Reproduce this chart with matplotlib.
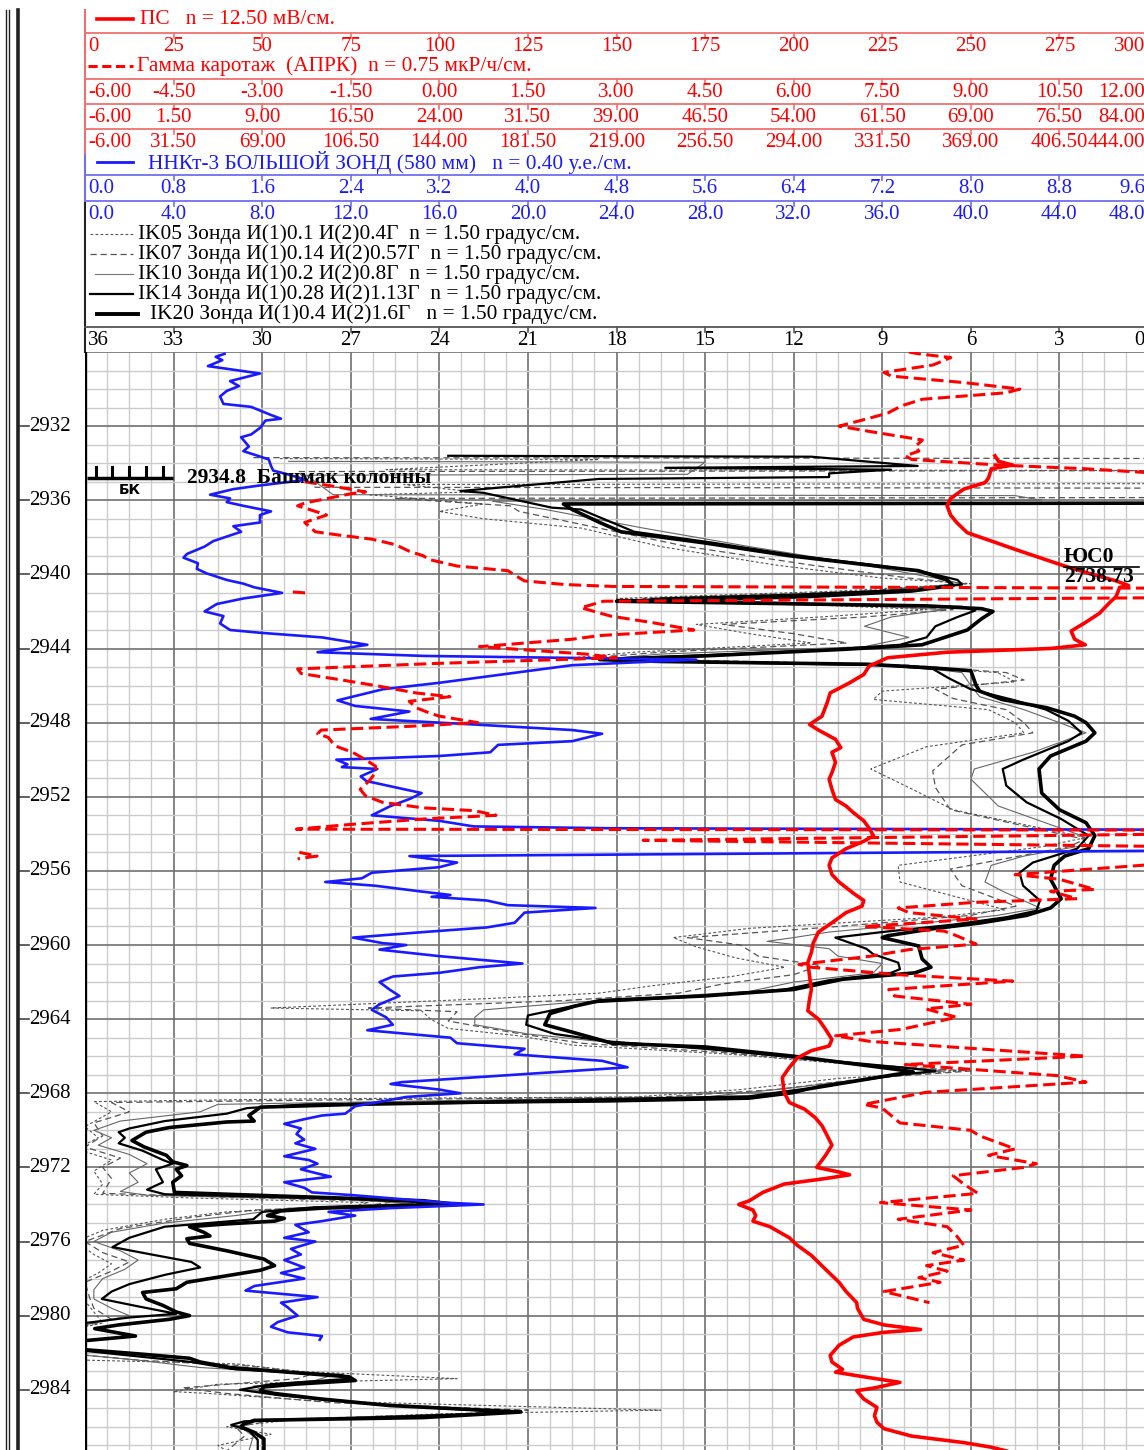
import numpy as np
import matplotlib.pyplot as plt
import matplotlib.transforms as mtransforms

plt.rcParams['font.family'] = ['Liberation Serif', 'DejaVu Serif']

# ПС, mV-scale units of the header (0..300)
ps_depth = [2933.6, 2933.9, 2934.1, 2934.3, 2934.8, 2935.05, 2935.4, 2935.9, 2936.3, 2936.8, 2937.2, 2937.75,
            2938.2, 2938.65, 2939.1, 2939.55, 2940.0, 2940.35, 2940.6, 2940.7, 2941.2, 2941.5, 2942.1, 2942.6,
            2943.06, 2943.5, 2943.8, 2944.0, 2944.2, 2944.5, 2944.95, 2945.4, 2945.85, 2946.4, 2946.9, 2947.65,
            2948.1, 2948.4, 2948.9, 2949.35, 2949.6, 2950.15, 2950.7, 2951.05, 2951.6, 2952.15, 2952.5, 2952.85,
            2953.3, 2953.75, 2954.1, 2954.4, 2954.8, 2955.3, 2955.7, 2956.2, 2956.6, 2957.2, 2957.6, 2957.9,
            2958.25, 2958.8, 2959.3, 2959.9, 2960.4, 2960.95, 2961.7, 2962.4, 2962.9, 2963.55, 2964.0, 2964.55,
            2965.1, 2965.45, 2965.7, 2966.1, 2966.6, 2967.15, 2967.95, 2968.5, 2968.85, 2969.3, 2969.75, 2970.3,
            2970.8, 2971.35, 2972.0, 2972.25, 2972.4, 2972.6, 2972.9, 2973.35, 2973.8, 2974.0, 2974.3, 2974.6,
            2974.9, 2975.2, 2975.8, 2976.2, 2976.75, 2977.5, 2978.2, 2978.7, 2979.3, 2979.6, 2980.2, 2980.5,
            2980.75, 2980.9, 2981.15, 2981.6, 2982.15, 2982.5, 2982.9, 2983.05, 2983.3, 2983.6, 2983.9, 2984.05,
            2984.5, 2984.95, 2985.4, 2985.75, 2986.1, 2986.5, 2986.85, 2987.1, 2987.3]
ps_value = [256.8, 257.8, 261.8, 255.8, 255.0, 254.0, 248.0, 244.3, 243.3, 244.3, 246.0, 249.0,
            255.8, 262.5, 269.5, 276.5, 284.3, 291.0, 294.5, 292.0, 291.0, 289.3, 286.3, 282.3,
            278.3, 279.3, 282.3, 272.5, 243.3, 226.5, 221.3, 219.8, 215.8, 210.3, 209.5, 208.0,
            204.5, 207.0, 211.8, 213.3, 210.8, 211.8, 210.8, 210.0, 210.8, 211.8, 214.8, 216.8,
            219.8, 221.5, 222.5, 219.8, 214.8, 210.8, 210.0, 210.8, 212.8, 216.8, 219.8, 219.3,
            214.8, 210.8, 207.0, 205.5, 205.0, 204.0, 204.5, 205.0, 204.5, 204.0, 207.0, 209.0,
            210.8, 210.0, 205.0, 201.0, 198.8, 196.8, 197.3, 198.8, 203.0, 206.0, 208.0, 209.5,
            210.8, 209.0, 206.5, 212.8, 215.8, 209.0, 197.3, 191.3, 187.5, 184.5, 188.5, 189.3,
            188.5, 193.3, 198.8, 201.0, 205.0, 209.0, 212.8, 214.8, 217.8, 218.0, 219.8, 225.5,
            235.8, 225.5, 216.8, 212.8, 210.3, 210.8, 213.8, 211.8, 219.8, 230.0, 222.8, 217.8,
            219.8, 223.5, 222.8, 223.5, 225.5, 233.3, 248.0, 255.8, 260.0]

# Гамма каротаж, read on the first gamma scale (-6..12); nan = break where the trace wraps
gk_depth = [2928.0, 2928.1, 2928.3, 2928.7, 2929.1, 2929.3, 2929.65, 2930.0, 2930.2, 2930.55, 2930.9, 2931.3,
            2931.6, 2932.0, 2932.3, 2932.6, 2932.75, 2933.1, 2933.35, 2933.6, 2933.8, 2934.1, 2934.3, 2934.6,
            np.nan,
            2935.0, 2935.2, 2935.55, 2935.65, 2936.15, 2936.3, 2936.7, 2936.8, 2937.2, 2937.7, 2937.9, 2938.1,
            2938.4, 2938.75, 2939.0, 2939.2, 2939.55, 2939.8, 2940.1, 2940.35, 2940.55, 2940.65, 2940.75,
            np.nan, 2940.95, 2941.02, np.nan,
            2941.25, 2941.45, 2941.8, 2942.25, 2942.6, 2943.0, 2943.3, 2943.5, 2943.9, 2944.3, 2944.5, 2944.8,
            2945.1, 2945.35, 2945.7, 2946.0, 2946.4, 2946.6, 2946.85, 2947.2, 2947.5, 2947.65, 2948.0, 2948.2,
            2948.4, 2948.6, 2948.8, 2949.25, 2949.6, 2950.0, 2950.35, 2950.7, 2951.15, 2951.6, 2951.95, 2952.3,
            2952.6, 2952.75, 2953.0, 2953.2, 2953.5, 2953.75, 2953.8,
            np.nan, 2954.0, 2954.35, 2954.7,
            np.nan, 2955.0, 2955.2, 2955.35,
            np.nan,
            2955.5, 2956.2, 2956.45, 2957.0, 2957.1, 2957.5, 2957.7, 2958.0, 2958.25, 2958.6, 2959.0, 2959.25,
            2959.5, 2959.95, 2960.25, 2960.6, 2961.05, 2961.2, 2961.6, 2961.95, 2962.4, 2962.75, 2963.2, 2963.45,
            2963.9, 2964.55, 2964.9, 2965.2, 2966.0, 2966.45, 2967.05, 2967.4, 2967.95, 2968.6, 2968.8, 2969.2,
            2969.6, 2970.0, 2970.3, 2971.0, 2971.35, 2971.8, 2972.0, 2972.45, 2972.9, 2973.4, 2973.9, 2974.3,
            2974.8, 2975.2, 2975.7, 2976.2, 2976.6, 2977.0, 2977.3, 2977.6, 2977.95, 2978.2, 2978.7, 2979.3]
gk_value = [7.95, 8.12, 8.66, 8.36, 7.53, 7.65, 8.88, 9.83, 9.60, 8.18, 7.83, 7.59,
            7.25, 6.77, 7.31, 7.89, 8.18, 8.06, 8.12, 7.89, 8.0, 9.47, 10.94, 12.45,
            np.nan,
            -2.28, -1.88, -1.25, -1.5, -2.28, -2.4, -2.0, -1.91, -2.28, -2.1, -1.65, -1.14,
            -0.74, -0.51, -0.27, -0.17, 0.3, 1.16, 1.31, 1.44, 2.13, 2.93, 12.75,
            np.nan, -2.48, -2.18, np.nan,
            12.75, 2.78, 2.4, 2.9, 3.6, 4.31, 2.72, 2.25, 0.68, 2.48, 3.0, 0.0,
            -2.4, -2.34, -1.65, -1.08, -0.39, 0.18, -0.51, -0.39, -0.15, 0.0, 0.65, -0.51,
            -2.0, -2.06, -1.88, -1.77, -1.47, -1.25, -1.08, -1.08, -1.19, -1.34, -1.25, -0.96,
            -0.27, 0.59, 0.96, -0.27, -1.53, -2.42, 12.75,
            np.nan, 12.75, 3.45, 12.75,
            np.nan, -2.37, -2.07, -2.4,
            np.nan,
            12.75, 9.75, 10.5, 11.1, 10.35, 10.8, 9.06, 7.77, 7.95, 9.09, 7.19, 8.55,
            8.76, 9.09, 7.95, 7.31, 6.09, 6.3, 7.77, 9.71, 7.61, 7.71, 9.0, 8.24,
            8.76, 7.83, 6.71, 7.29, 10.94, 7.89, 10.47, 10.95, 8.24, 7.19, 7.5, 7.65,
            7.8, 9.0, 9.15, 9.75, 9.3, 10.11, 9.9, 8.7, 8.88, 9.12, 7.47, 9.0,
            7.77, 8.6, 8.76, 8.88, 8.36, 8.88, 8.25, 8.6, 8.12, 8.48, 7.53, 8.3]

# ННКт-3, first scale (0..9.6 у.е.)
nnk_depth = [2928.1, 2928.26, 2928.44, 2928.76, 2929.16, 2929.57, 2929.84, 2930.1, 2930.4, 2930.8, 2930.96,
             2931.4, 2931.6, 2931.7, 2932.1, 2932.45, 2932.6, 2933.1, 2933.35, 2933.6, 2933.8, 2934.15, 2934.4,
             2934.6, 2934.9, 2935.2, 2935.4, 2935.7, 2935.9, 2936.1, 2936.3, 2936.6, 2936.8, 2937.2, 2937.4,
             2937.7, 2937.9, 2938.2, 2938.5, 2938.9, 2939.1, 2939.4, 2939.7, 2939.95, 2940.3, 2940.5, 2940.7,
             2941.0, 2941.3, 2941.6, 2942.0, 2942.25, 2942.65, 2943.0, 2943.15, 2943.4, 2943.8, 2944.2, 2944.4,
             2944.6, 2944.9, 2945.85, 2946.2, 2946.8, 2947.1, 2947.4, 2947.8, 2948.1, 2948.4, 2948.6, 2949.0,
             2949.2, 2949.6, 2949.8, 2950.0, 2950.25, 2950.4, 2950.5, 2950.9, 2951.15, 2951.5, 2951.8, 2952.1,
             2952.5, 2953.0, 2953.3, 2953.6, 2953.7, 2953.8, 2954.85, 2955.2, 2955.55, 2955.8, 2956.1, 2956.4,
             2956.6, 2956.8, 2957.1, 2957.3, 2957.4, 2957.6, 2957.85, 2958.0, 2958.25, 2958.8, 2959.05, 2959.3,
             2959.6, 2959.9, 2960.0, 2960.25, 2960.6, 2961.0, 2961.2, 2961.5, 2961.7, 2962.0, 2962.4, 2962.75,
             2963.2, 2963.5, 2963.9, 2964.3, 2964.6, 2965.0, 2965.3, 2965.6, 2965.9, 2966.25, 2966.6, 2967.2,
             2967.4, 2967.5, 2967.8, 2968.0, 2968.2, 2968.7, 2969.1, 2969.2, 2969.4, 2969.65, 2969.9, 2970.2,
             2970.5, 2970.7, 2971.0, 2971.4, 2971.6, 2971.8, 2972.1, 2972.3, 2972.5, 2972.8, 2973.1, 2973.35,
             2973.5, 2973.9, 2974.0, 2974.2, 2974.4, 2974.6, 2974.9, 2975.1, 2975.5, 2975.8, 2976.0, 2976.4,
             2976.7, 2977.0, 2977.4, 2977.7, 2978.0, 2978.4, 2978.65, 2979.0, 2979.3, 2979.55, 2980.0, 2980.35,
             2980.6, 2980.9, 2981.1, 2981.3]
nnk_value = [1.26, 1.18, 1.24, 1.11, 1.58, 1.31, 1.39, 1.28, 1.22, 1.25, 1.50,
             1.68, 1.77, 1.63, 1.58, 1.50, 1.41, 1.48, 1.43, 1.56, 1.66, 1.68, 1.70,
             1.83, 2.00, 1.58, 1.34, 1.13, 1.31, 1.28, 1.43, 1.68, 1.58, 1.58, 1.34,
             1.41, 1.31, 1.16, 1.08, 0.92, 0.89, 1.02, 1.01, 1.10, 1.28, 1.43, 1.53,
             1.78, 1.43, 1.19, 1.08, 1.25, 1.22, 1.31, 1.58, 2.14, 2.55, 2.10, 3.06,
             5.52, 4.40, 3.20, 2.69, 2.28, 2.44, 2.93, 2.58, 3.51, 4.40, 4.67, 4.40,
             3.73, 3.66, 3.20, 2.27, 2.37, 2.32, 2.64, 2.49, 2.54, 2.81, 3.04, 2.94,
             2.76, 2.59, 3.20, 3.51, 4.76, 11.2, 11.2, 2.93, 3.36, 3.20, 2.59, 2.50,
             2.17, 2.62, 3.02, 3.30, 3.13, 3.63, 3.82, 4.61, 3.97, 3.88, 3.63, 3.06,
             2.42, 2.69, 2.90, 2.66, 3.20, 3.95, 3.56, 3.20, 2.78, 2.66, 2.75, 2.84,
             2.66, 2.59, 2.72, 2.78, 2.55, 3.30, 3.36, 3.97, 3.88, 4.67, 4.90, 3.36,
             2.86, 2.76, 3.20, 3.39, 2.90, 2.44, 2.35, 2.14, 1.98, 1.80, 1.95, 1.91,
             1.98, 1.90, 2.08, 1.80, 2.02, 2.10, 1.95, 2.08, 2.22, 1.80, 1.98, 2.05,
             2.42, 3.24, 3.60, 2.75, 2.20, 2.44, 2.14, 1.90, 2.02, 1.80, 2.08, 1.86,
             1.95, 1.80, 1.98, 1.77, 1.98, 1.53, 1.45, 2.10, 1.77, 1.83, 1.92, 1.74,
             1.68, 1.83, 2.14, 2.12]

# IK curves, degrees (36 at the left edge, 0 at the right edge)
ik20_depth = [2936.15, 2936.2, 2936.5, 2937.2, 2937.7, 2938.3, 2939.0, 2939.55, 2939.8, 2940.3, 2940.6, 2940.9,
              2941.2, 2941.35, 2941.45, 2941.55, 2941.7, 2941.85, 2942.0, 2942.4, 2943.0, 2943.8, 2944.05, 2944.4,
              2944.6, 2944.7, 2944.85, 2945.05, 2945.2, 2946.0, 2946.3, 2946.75, 2947.2, 2947.65, 2948.0, 2948.55,
              2949.0, 2949.8, 2950.5, 2951.8, 2952.7, 2953.4, 2954.1, 2954.8, 2955.2, 2955.7, 2956.45, 2957.5,
              2958.0, 2958.4, 2958.8, 2959.15, 2959.5, 2959.6, 2960.05, 2960.75, 2961.2, 2961.5, 2961.85, 2962.4,
              2962.75, 2963.0, 2963.3, 2963.7, 2964.3, 2964.7, 2965.3, 2965.5, 2966.0, 2966.7, 2966.85, 2967.0,
              2967.8, 2968.2, 2968.35, 2968.6, 2968.75, 2969.2, 2969.5, 2969.55, 2969.85, 2970.1, 2970.55, 2970.9,
              2971.35, 2971.7, 2971.9, 2972.1, 2972.45, 2972.8, 2973.35, 2973.5, 2973.8, 2974.0, 2974.2, 2974.35,
              2974.6, 2974.75, 2974.9, 2975.05, 2975.2, 2975.5, 2975.7, 2975.85, 2976.1, 2976.5, 2976.95, 2977.3,
              2977.55, 2977.85, 2978.2, 2978.55, 2978.75, 2979.1, 2979.45, 2979.8, 2980.0, 2980.2, 2980.5, 2980.7,
              2981.1, 2981.35, 2981.8, 2982.05, 2982.3, 2982.5, 2982.8, 2983.05, 2983.3, 2983.5, 2983.7, 2983.85,
              2984.05, 2984.2, 2984.5, 2984.85, 2985.1, 2985.2, 2985.5, 2985.65, 2985.85, 2986.0, 2986.3, 2986.65,
              2987.3]
ik20_value = [-3.0, 19.8, 19.5, 18.57, 17.85, 15.03, 12.12, 9.18, 7.77, 6.81, 6.6, 8.01,
              11.52, 15.03, 18.0, 13.5, 7.5, 5.64, 5.25, 5.64, 6.12, 7.65, 10.35, 15.03,
              18.57, 16.5, 9.51, 7.29, 6.0, 5.82, 5.7, 4.95, 3.42, 2.49, 2.1, 1.8,
              2.1, 3.3, 3.69, 3.6, 3.0, 2.1, 1.8, 2.01, 2.82, 3.18, 3.3, 2.94,
              3.3, 4.11, 5.64, 7.41, 8.82, 9.0, 7.77, 7.65, 7.35, 7.89, 10.35, 12.0,
              15.03, 18.57, 19.41, 20.25, 20.43, 19.5, 18.15, 15.0, 12.0, 8.58, 7.95, 8.61,
              11.64, 13.5, 18.15, 26.85, 30.06, 30.45, 30.27, 31.2, 33.15, 33.93, 34.41, 33.99,
              33.24, 33.03, 32.55, 32.91, 32.73, 33.03, 32.97, 30.27, 24.54, 23.4, 27.99, 29.37,
              29.82, 29.25, 29.58, 31.2, 32.46, 31.98, 31.77, 32.55, 32.46, 31.2, 29.94, 29.58,
              30.06, 31.2, 32.55, 32.91, 34.05, 33.93, 33.36, 32.91, 32.46, 33.15, 34.86, 35.67,
              34.29, 36.0, 36.3, 34.29, 32.46, 32.1, 31.08, 29.13, 27.06, 26.85, 28.89, 29.94,
              30.06, 29.58, 27.99, 25.68, 22.5, 21.24, 24.54, 30.27, 30.63, 30.72, 30.27, 29.94,
              29.94]

ik14_depth = [2933.6, 2933.65, 2934.15, 2934.25, 2934.35, 2934.55, 2934.75, 2934.85, 2935.5, 2935.6, 2936.4, 2936.5,
              2937.2, 2937.7, 2938.3, 2939.0, 2939.55, 2939.9, 2940.3, 2940.55, 2940.8, 2941.1, 2941.3, 2941.45,
              2941.6, 2941.75, 2941.95, 2942.3, 2942.8, 2943.4, 2943.8, 2944.1, 2944.4, 2944.55, 2944.7, 2944.9,
              2945.1, 2945.6, 2946.2, 2946.8, 2947.3, 2947.9, 2948.55, 2949.0, 2950.0, 2950.5, 2951.4, 2952.3,
              2953.2, 2954.1, 2954.8, 2955.55, 2956.1, 2956.8, 2957.6, 2958.15, 2958.5, 2958.9, 2959.3, 2959.6,
              2960.2, 2960.5, 2960.95, 2961.3, 2961.5, 2961.9, 2962.4, 2962.8, 2963.1, 2963.5, 2963.8, 2964.3,
              2964.8, 2965.2, 2965.6, 2966.1, 2966.6, 2966.8, 2967.0, 2967.6, 2968.0, 2968.3, 2968.45, 2968.6,
              2968.8, 2969.1, 2969.5, 2969.9, 2970.1, 2970.4, 2970.7, 2971.1, 2971.6, 2971.8, 2972.1, 2972.8,
              2973.2, 2973.45, 2973.7, 2973.95, 2974.15, 2974.4, 2974.8, 2975.2, 2975.8, 2976.3, 2976.7, 2977.1,
              2977.4, 2977.8, 2978.3, 2978.7, 2979.1, 2979.5, 2979.9, 2980.1, 2980.4, 2981.0, 2981.8, 2982.1,
              2982.5, 2982.9, 2983.2, 2983.4, 2983.7, 2984.0, 2984.3, 2984.8, 2985.1, 2985.25, 2985.5, 2985.7,
              2985.9, 2986.2, 2986.7, 2987.3]
ik14_value = [23.7, 11.4, 7.8, 16.35, 8.7, 10.8, 10.8, 18.6, 23.28, 22.5, 20.19, 19.2,
              18.15, 17.4, 14.7, 11.85, 9.0, 7.5, 6.45, 6.3, 7.8, 12.0, 16.5, 17.4,
              12.0, 6.3, 5.85, 6.45, 7.2, 7.5, 8.4, 11.1, 15.6, 18.3, 16.2, 9.0,
              7.29, 6.75, 6.0, 4.5, 3.45, 2.7, 2.25, 2.7, 4.23, 4.92, 4.8, 4.11,
              2.94, 2.01, 2.4, 3.9, 4.35, 4.23, 3.66, 3.78, 4.8, 6.6, 9.0, 10.59,
              9.54, 9.3, 8.46, 8.4, 8.7, 10.8, 12.3, 15.6, 18.9, 20.1, 21.0, 21.06,
              20.1, 18.3, 15.0, 11.7, 8.4, 7.2, 8.4, 11.1, 12.0, 13.5, 18.3, 28.5,
              30.51, 31.2, 33.3, 34.5, 34.86, 34.65, 34.86, 34.05, 33.36, 33.03, 33.6, 33.36,
              33.9, 33.3, 27.0, 23.7, 28.2, 30.0, 30.3, 33.3, 34.5, 35.07, 33.75, 32.4,
              32.1, 33.3, 34.5, 35.1, 35.43, 34.2, 32.91, 34.5, 36.0, 36.6, 36.6, 34.8,
              32.4, 30.9, 27.3, 27.0, 29.7, 30.75, 29.4, 26.1, 22.8, 21.9, 26.4, 30.6,
              31.05, 30.45, 30.15, 30.15]

ik10_depth = [2933.9, 2933.95, 2934.6, 2934.65, 2935.7, 2935.75, 2936.0, 2936.05, 2936.5, 2937.5, 2938.5, 2939.5,
              2940.2, 2940.5, 2940.9, 2941.3, 2941.6, 2941.9, 2942.3, 2942.8, 2943.4, 2943.9, 2944.3, 2944.55,
              2944.9, 2945.3, 2946.0, 2946.6, 2947.3, 2948.0, 2948.55, 2949.6, 2950.5, 2951.05, 2952.5, 2954.1,
              2954.6, 2955.2, 2955.7, 2956.6, 2957.1, 2958.0, 2958.4, 2958.9, 2959.3, 2959.6, 2959.8, 2960.2,
              2960.6, 2961.0, 2961.5, 2962.0, 2962.5, 2962.8, 2963.1, 2963.5, 2963.9, 2964.3, 2964.8, 2965.2,
              2965.6, 2966.2, 2966.6, 2966.8, 2967.1, 2967.7, 2968.2, 2968.4, 2968.6, 2969.0, 2969.5, 2970.0,
              2970.4, 2970.8, 2971.3, 2971.8, 2972.3, 2972.8, 2973.3, 2973.5, 2973.75, 2973.95, 2974.2, 2974.6,
              2975.0, 2975.5, 2976.0, 2976.5, 2977.0, 2977.5, 2978.0, 2978.6, 2979.1, 2979.6, 2980.0, 2980.5,
              2981.2, 2982.0, 2982.4, 2982.8, 2983.2, 2983.5, 2983.8, 2984.2, 2984.7, 2985.1, 2985.3, 2985.6,
              2986.0, 2986.5, 2987.3]
ik10_value = [29.1, 15.0, 15.6, 28.5, 27.6, 4.5, 3.6, 22.2, 20.4, 17.1, 13.5, 9.6,
              7.2, 6.3, 9.0, 16.5, 10.5, 6.9, 8.7, 9.6, 8.1, 9.6, 16.5, 18.3,
              8.4, 6.3, 6.0, 5.7, 4.2, 3.0, 2.1, 3.9, 5.88, 6.0, 5.07, 2.25,
              2.1, 4.2, 5.31, 5.52, 4.92, 3.66, 5.1, 8.1, 10.8, 12.0, 12.9, 10.8,
              10.5, 9.0, 9.3, 12.0, 13.5, 16.5, 19.5, 22.5, 22.8, 22.8, 21.0, 18.6,
              15.0, 11.4, 8.1, 6.9, 9.0, 12.0, 15.0, 24.0, 31.5, 32.1, 34.8, 35.7,
              35.1, 35.55, 34.5, 33.9, 34.5, 34.2, 34.8, 33.9, 27.0, 24.9, 29.1, 30.9,
              33.3, 35.1, 35.7, 34.8, 34.2, 34.65, 35.4, 35.7, 35.7, 35.1, 34.5, 36.0,
              36.9, 36.9, 34.2, 32.1, 27.6, 28.2, 30.3, 29.7, 26.4, 22.2, 22.8, 30.0,
              30.75, 30.3, 30.45]

ik07_depth = [2933.7, 2933.75, 2934.4, 2934.45, 2935.3, 2935.35, 2935.85, 2935.9, 2936.3, 2936.6, 2937.5, 2938.5,
              2939.5, 2940.2, 2940.5, 2940.9, 2941.3, 2941.6, 2941.9, 2942.3, 2942.7, 2943.2, 2943.7, 2944.2,
              2944.5, 2944.9, 2945.3, 2945.7, 2946.2, 2946.7, 2947.3, 2948.0, 2948.55, 2949.2, 2950.6, 2951.5,
              2952.7, 2954.3, 2954.7, 2955.9, 2956.8, 2957.9, 2958.4, 2959.0, 2959.6, 2960.0, 2960.6, 2961.1,
              2961.6, 2962.1, 2962.6, 2963.0, 2963.4, 2963.6, 2964.1, 2964.7, 2965.3, 2965.8, 2966.4, 2966.8,
              2967.2, 2967.8, 2968.2, 2968.35, 2968.5, 2969.0, 2969.6, 2970.3, 2970.9, 2971.5, 2972.0, 2972.6,
              2973.4, 2973.6, 2973.85, 2974.05, 2974.3, 2974.7, 2975.3, 2976.0, 2976.6, 2977.1, 2977.6, 2978.2,
              2979.0, 2979.6, 2980.2, 2980.8, 2982.0, 2982.4, 2982.7, 2983.1, 2983.4, 2983.9, 2984.2, 2984.7,
              2985.1, 2985.3, 2985.6, 2986.0, 2986.5, 2987.3]
ik07_value = [30.3, -3.0, -3.0, 28.8, 28.2, -3.0, -3.0, 25.5, 21.6, 21.3, 18.6, 15.6,
              11.4, 8.1, 6.15, 9.6, 17.1, 11.1, 6.6, 9.6, 14.4, 12.0, 10.2, 16.5,
              18.9, 8.1, 4.8, 4.2, 7.2, 6.6, 4.8, 4.2, 3.9, 6.3, 7.29, 7.2,
              6.69, 2.13, 2.7, 6.69, 6.3, 4.47, 6.0, 10.5, 15.6, 13.8, 13.2, 11.1,
              12.0, 14.4, 15.9, 19.8, 26.4, 23.4, 23.7, 21.6, 19.2, 14.4, 10.2, 6.0,
              9.6, 12.6, 16.5, 27.0, 35.1, 34.5, 35.7, 35.4, 36.0, 34.8, 35.4, 35.1,
              35.4, 31.5, 25.5, 26.4, 30.3, 32.4, 34.8, 36.0, 35.4, 34.5, 35.1, 36.0,
              35.85, 35.7, 35.1, 36.6, 36.9, 34.2, 30.6, 28.2, 28.8, 32.7, 31.2, 27.6,
              21.0, 23.4, 29.4, 30.9, 30.6, 31.2]

ik05_depth = [2933.75, 2933.8, 2934.35, 2934.4, 2935.1, 2935.15, 2935.55, 2935.7, 2936.2, 2936.6, 2937.0, 2937.5,
              2938.5, 2939.5, 2940.2, 2940.5, 2940.9, 2941.3, 2941.6, 2941.9, 2942.3, 2942.7, 2943.2, 2943.7,
              2944.2, 2944.5, 2944.9, 2945.3, 2945.8, 2946.3, 2946.75, 2947.3, 2948.0, 2948.55, 2949.3, 2950.5,
              2951.5, 2952.7, 2954.2, 2954.7, 2955.7, 2956.6, 2958.1, 2958.5, 2959.1, 2959.6, 2960.1, 2960.7,
              2961.2, 2961.7, 2962.2, 2962.6, 2962.9, 2963.4, 2963.55, 2964.0, 2964.5, 2964.9, 2965.4, 2965.9,
              2966.5, 2966.8, 2967.2, 2967.8, 2968.2, 2968.3, 2968.45, 2969.0, 2969.8, 2970.4, 2971.0, 2971.6,
              2972.2, 2972.9, 2973.45, 2973.65, 2973.9, 2974.1, 2974.4, 2974.8, 2975.4, 2976.0, 2976.7, 2977.2,
              2977.7, 2978.3, 2979.2, 2979.8, 2980.4, 2980.9, 2982.0, 2982.4, 2982.6, 2983.0, 2983.4, 2983.7,
              2984.1, 2984.2, 2984.6, 2985.1, 2985.3, 2985.6, 2986.0, 2986.4, 2987.0, 2987.3]
ik05_value = [29.4, 18.6, 25.8, -3.0, -3.0, 25.2, 22.8, 26.4, 22.5, 24.0, 22.5, 19.2,
              16.5, 12.6, 9.0, 6.0, 10.5, 18.0, 12.0, 7.5, 11.1, 15.3, 13.5, 11.4,
              17.4, 19.5, 9.0, 5.1, 4.5, 9.0, 9.3, 5.4, 4.5, 4.2, 7.5, 9.39,
              8.1, 6.6, 2.1, 3.6, 8.46, 8.4, 4.83, 7.2, 13.5, 16.08, 15.3, 13.95,
              12.3, 14.1, 16.8, 18.6, 22.5, 29.7, 24.6, 24.3, 23.7, 21.3, 19.5, 14.1,
              9.6, 6.3, 10.5, 13.8, 17.4, 28.5, 35.7, 35.1, 36.0, 35.55, 36.3, 35.1,
              35.7, 35.4, 35.7, 32.4, 26.4, 27.0, 31.2, 33.3, 35.4, 36.3, 35.7, 35.1,
              35.55, 36.3, 36.0, 35.7, 35.4, 36.9, 36.9, 36.0, 30.9, 28.8, 23.4, 31.5,
              33.0, 31.8, 28.2, 16.5, 24.0, 28.8, 31.2, 29.7, 31.5, 31.2]

# header scales
ps_ticks = ['0', '25', '50', '75', '100', '125', '150', '175', '200', '225', '250', '275', '300']
gk_ticks1 = ['-6.00', '-4.50', '-3.00', '-1.50', '0.00', '1.50', '3.00', '4.50', '6.00', '7.50', '9.00', '10.50', '12.00']
gk_ticks2 = ['-6.00', '1.50', '9.00', '16.50', '24.00', '31.50', '39.00', '46.50', '54.00', '61.50', '69.00', '76.50', '84.00']
gk_ticks3 = ['-6.00', '31.50', '69.00', '106.50', '144.00', '181.50', '219.00', '256.50', '294.00', '331.50', '369.00', '406.50', '444.00']
nnk_ticks1 = ['0.0', '0.8', '1.6', '2.4', '3.2', '4.0', '4.8', '5.6', '6.4', '7.2', '8.0', '8.8', '9.6']
nnk_ticks2 = ['0.0', '4.0', '8.0', '12.0', '16.0', '20.0', '24.0', '28.0', '32.0', '36.0', '40.0', '44.0', '48.0']
ik_ticks = ['36', '33', '30', '27', '24', '21', '18', '15', '12', '9', '6', '3', '0']
depth_labels = list(range(2932, 2988, 4))

# ---------------- layout ----------------
W, H = 1144, 1450
TL, TR, TT = 85, 1148, 352          # track edges in pixels
DIV = (TR - TL) / 12.0
D_TOP, D_BOT = 2928.0, 2987.25

RED, RED_L = '#ff0000', '#f07070'
BLUE, BLUE_L = '#1a1aff', '#7070f0'
NUM_FS, LEG_FS = 15, 15.4

fig = plt.figure(figsize=(W / 100, H / 100), dpi=100)
bg = fig.add_axes([0, 0, 1, 1])
bg.set_xlim(0, W)
bg.set_ylim(H, 0)
bg.axis('off')

ax = fig.add_axes([TL / W, 0, (TR - TL) / W, (H - TT) / H])
ax.set_xlim(0, 12)
ax.set_ylim(D_BOT, D_TOP)
ax.set_xticks([])
ax.set_yticks([])
for s in ax.spines.values():
    s.set_visible(False)

# grid
for x in np.arange(0, 12.01, 0.25):
    major = abs(x - round(x)) < 1e-6
    ax.axvline(x, color='#707070' if major else '#cccccc', lw=1.2 if major else 1.0, zorder=1)
for d in range(2928, 2988):
    major = (d % 4 == 0)
    ax.axhline(d, color='#707070' if major else '#cccccc', lw=1.2 if major else 1.0, zorder=1)
ax.axvline(0, color='black', lw=2.4, zorder=6)

# curves (each scale mapped to track divisions)
ps_x = np.array(ps_value) / 25.0
gk_x = (np.array(gk_value) + 6.0) / 1.5
nnk_x = np.array(nnk_value) / 0.8
ik_x = lambda v: (36.0 - np.array(v)) / 3.0

ax.plot(ik_x(ik05_value), ik05_depth, color='#555555', lw=0.8, ls=(0, (2.5, 2)), zorder=3)
ax.plot(ik_x(ik07_value), ik07_depth, color='#555555', lw=0.9, ls=(0, (5, 3)), zorder=3)
ax.plot(ik_x(ik10_value), ik10_depth, color='#666666', lw=0.8, zorder=3)
ax.plot(ik_x(ik14_value), ik14_depth, color='black', lw=1.6, zorder=4)
ax.plot(ik_x(ik20_value), ik20_depth, color='black', lw=2.6, zorder=4)
ax.plot(nnk_x, nnk_depth, color=BLUE, lw=1.9, zorder=5)
ax.plot(gk_x, gk_depth, color=RED, lw=2.2, ls=(0, (4, 1.8)), zorder=5)
ax.plot(ps_x, ps_depth, color=RED, lw=2.6, zorder=5)

# markers
ax.plot([0.02, 0.99], [2934.8, 2934.8], color='black', lw=2.5, zorder=7, solid_capstyle='butt')
for xt in [0.12, 0.31, 0.5, 0.69, 0.88]:
    ax.plot([xt, xt], [2934.8, 2934.2], color='black', lw=2.2, zorder=7)
ax.text(0.5, 2935.05, 'БК', family='DejaVu Sans', fontsize=10, fontweight='bold',
        ha='center', va='top', zorder=8)
ax.text(1.15, 2934.8, '2934.8  Башмак колонны', fontsize=15.5, fontweight='bold',
        ha='left', va='center', zorder=8)
ax.text(11.05, 2939.05, 'ЮС0', fontsize=15.5, fontweight='bold', ha='left', va='center', zorder=8)
ax.plot([11.05, 11.9], [2939.6, 2939.6], color='black', lw=1.2, zorder=8)
ax.text(11.05, 2940.15, '2738.73', fontsize=15.5, fontweight='bold', ha='left', va='center', zorder=8)

# depth labels at the left
ytr = mtransforms.blended_transform_factory(bg.transData, ax.transData)
for d in depth_labels:
    bg.plot([18, 29], [d, d], color='#444444', lw=1.2, transform=ytr, clip_on=False)
    bg.text(29, d, str(d), fontsize=NUM_FS, ha='left', va='center', transform=ytr)

# left margin lines
for x0, lw in [(6, 1.0), (9, 1.0), (18, 2.6)]:
    bg.plot([x0, x0], [10, H], color='#222222', lw=lw)

# header
bg.plot([TL, TL], [10, 155], color=RED_L, lw=1.5)
bg.plot([TL, TL], [155, 203], color=BLUE_L, lw=1.5)
bg.plot([TL, TL], [203, TT], color='#222222', lw=1.5)


def scale_row(y_line, labels, color, line_color):
    bg.plot([TL, W], [y_line, y_line], color=line_color, lw=1.3)
    for i, lab in enumerate(labels):
        x = TL + i * DIV
        if i > 0:
            bg.plot([x, x], [y_line, y_line + 5], color=line_color, lw=1.2)
        if i == 0:
            bg.text(x + 3, y_line + 13, lab, color=color, fontsize=NUM_FS, ha='left', va='center')
        elif i == len(labels) - 1:
            bg.text(W + 1, y_line + 13, lab, color=color, fontsize=NUM_FS, ha='right', va='center')
        else:
            bg.text(x, y_line + 13, lab, color=color, fontsize=NUM_FS, ha='center', va='center')


def legend(y, x0, x1, color, lw, ls, text, tx, tcolor):
    bg.plot([x0, x1], [y, y], color=color, lw=lw, ls=ls)
    bg.text(tx, y, text, color=tcolor, fontsize=LEG_FS, ha='left', va='center')


legend(19, 97, 133, RED, 2.6, '-', 'ПС   n = 12.50 мВ/см.', 140, RED)
scale_row(33, ps_ticks, RED, RED_L)
legend(66, 88, 133, RED, 2.2, (0, (3, 1.5)), 'Гамма каротаж  (АПРК)  n = 0.75 мкР/ч/см.', 137, RED)
scale_row(79, gk_ticks1, RED, RED_L)
scale_row(104, gk_ticks2, RED, RED_L)
scale_row(129, gk_ticks3, RED, RED_L)
legend(162, 97, 133, BLUE, 2.0, '-', 'ННКт-3 БОЛЬШОЙ ЗОНД (580 мм)   n = 0.40 у.е./см.', 148, BLUE)
scale_row(175, nnk_ticks1, BLUE, BLUE_L)
scale_row(201, nnk_ticks2, BLUE, BLUE_L)
legend(234, 90, 133, '#555555', 0.8, (0, (2.5, 2)), 'IK05 Зонда И(1)0.1 И(2)0.4Г  n = 1.50 градус/см.', 138, 'black')
legend(254, 90, 133, '#555555', 0.9, (0, (5, 3)), 'IK07 Зонда И(1)0.14 И(2)0.57Г  n = 1.50 градус/см.', 138, 'black')
legend(274, 95, 133, '#777777', 0.8, '-', 'IK10 Зонда И(1)0.2 И(2)0.8Г  n = 1.50 градус/см.', 138, 'black')
legend(294, 90, 133, 'black', 1.6, '-', 'IK14 Зонда И(1)0.28 И(2)1.13Г  n = 1.50 градус/см.', 138, 'black')
legend(314, 97, 138, 'black', 2.8, '-', 'IK20 Зонда И(1)0.4 И(2)1.6Г   n = 1.50 градус/см.', 150, 'black')
scale_row(327, ik_ticks, 'black', '#555555')

fig.savefig('out.png', dpi=100)
